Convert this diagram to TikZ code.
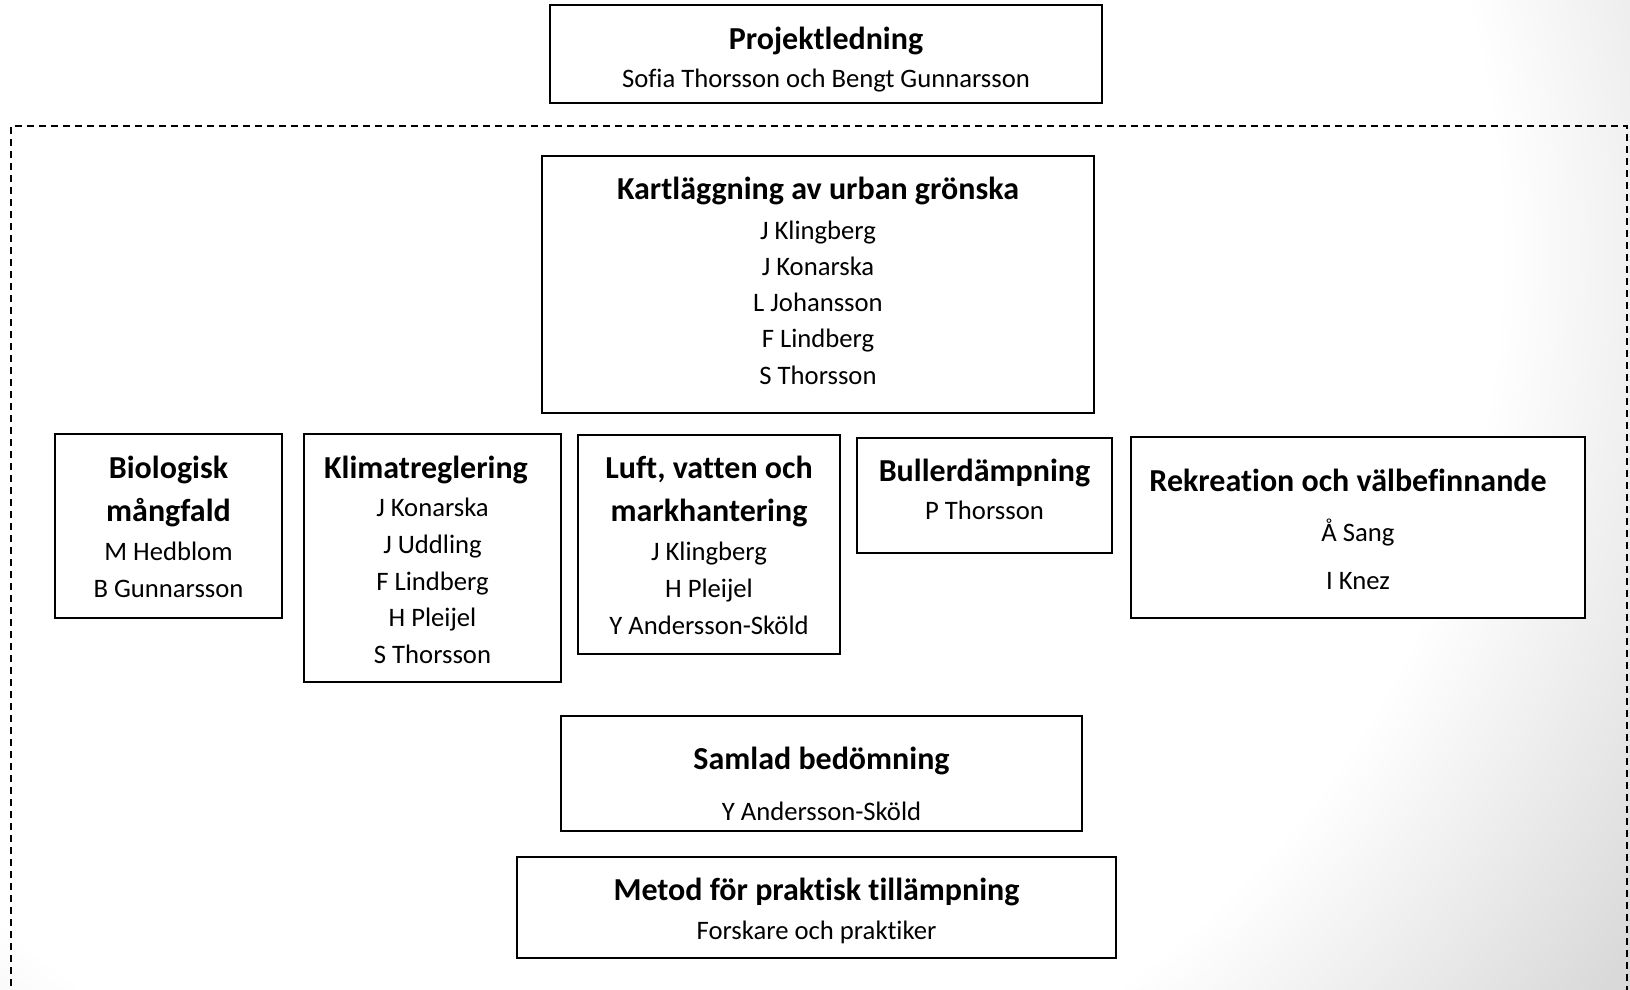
\documentclass[tikz,border=0pt]{standalone}
\usepackage{fontspec}
\setmainfont{Carlito}[Ligatures={NoCommon}]
\pgfdeclareradialshading{vign}{\pgfpoint{0bp}{0bp}}{color(0bp)=(white); color(17.3bp)=(white); color(24bp)=(black!15); color(50bp)=(black!15)}
\tikzset{
  box/.style={draw=black, line width=2.4pt, inner sep=0pt, fill=white, rectangle},
  ttl/.style={anchor=base, inner sep=0pt, font=\fontsize{32}{38}\selectfont\bfseries},
  nm/.style={anchor=base, inner sep=0pt, font=\fontsize{26.67}{32}\selectfont},
  frame/.style={draw=black, line width=1.8pt, dash pattern=on 7pt off 5pt},
}
\begin{document}
\begin{tikzpicture}[x=1pt, y=-1pt]
\useasboundingbox (0,0) rectangle (1630,990);
\begin{scope}
  \clip (0,0) rectangle (1630,990);
  \shade[shading=vign] (600,250) circle (1300pt);
  \draw[frame] (11,1010) -- (11,126) -- (1627,126) -- (1627,1010);
\end{scope}

% boxes
\node[box, minimum width=552, minimum height=98]  (pl)   at (826,54) {};
\node[box, minimum width=552, minimum height=257] (kart) at (818,284.5) {};
\node[box, minimum width=227, minimum height=184] (bio)  at (168.5,526) {};
\node[box, minimum width=257, minimum height=248] (klim) at (432.5,558) {};
\node[box, minimum width=262, minimum height=219] (luft) at (709,544.5) {};
\node[box, minimum width=255, minimum height=115] (bull) at (984.5,495.5) {};
\node[box, minimum width=454, minimum height=181] (rek)  at (1358,527.5) {};
\node[box, minimum width=521, minimum height=115] (sam)  at (821.5,773.5) {};
\node[box, minimum width=599, minimum height=101] (met)  at (816.5,907.5) {};

% Projektledning
\node[ttl] (plT) at (826,49) {Projektledning};
\node[nm]  (plA) at (826,87) {Sofia Thorsson och Bengt Gunnarsson};

% Kartläggning
\node[ttl] (kaT) at (818,199.5) {Kartläggning av urban grönska};
\node[nm]  (ka1) at (818,239) {J Klingberg};
\node[nm]  (ka2) at (818,275) {J Konarska};
\node[nm]  (ka3) at (818,311.5) {L Johansson};
\node[nm]  (ka4) at (818,347) {F Lindberg};
\node[nm]  (ka5) at (818,384) {S Thorsson};

% Biologisk mångfald
\node[ttl] (biT1) at (168.5,478.5) {Biologisk};
\node[ttl] (biT2) at (168.5,521.5) {mångfald};
\node[nm]  (bi1)  at (168.5,560) {M Hedblom};
\node[nm]  (bi2)  at (168.5,597) {B Gunnarsson};

% Klimatreglering
\node[ttl] (klT) at (426,478.5) {Klimatreglering};
\node[nm]  (kl1) at (432.5,516) {J Konarska};
\node[nm]  (kl2) at (432.5,553) {J Uddling};
\node[nm]  (kl3) at (432.5,590) {F Lindberg};
\node[nm]  (kl4) at (432.5,626.5) {H Pleijel};
\node[nm]  (kl5) at (432.5,663) {S Thorsson};

% Luft, vatten och markhantering
\node[ttl] (luT1) at (709,478.5) {Luft, vatten och};
\node[ttl] (luT2) at (709,521.5) {markhantering};
\node[nm]  (lu1)  at (709,560) {J Klingberg};
\node[nm]  (lu2)  at (709,597) {H Pleijel};
\node[nm]  (lu3)  at (709,634) {Y Andersson-Sköld};

% Bullerdämpning
\node[ttl] (buT) at (984.5,481.5) {Bullerdämpning};
\node[nm]  (bu1) at (984.5,519) {P Thorsson};

% Rekreation
\node[ttl] (reT) at (1348,491.5) {Rekreation och välbefinnande};
\node[nm]  (re1) at (1358,541) {Å Sang};
\node[nm]  (re2) at (1358,589) {I Knez};

% Samlad bedömning
\node[ttl] (saT) at (821.5,769.5) {Samlad bedömning};
\node[nm]  (sa1) at (821.5,820) {Y Andersson-Sköld};

% Metod
\node[ttl] (meT) at (816.5,900.5) {Metod för praktisk tillämpning};
\node[nm]  (me1) at (816.5,939) {Forskare och praktiker};
\end{tikzpicture}
\end{document}
